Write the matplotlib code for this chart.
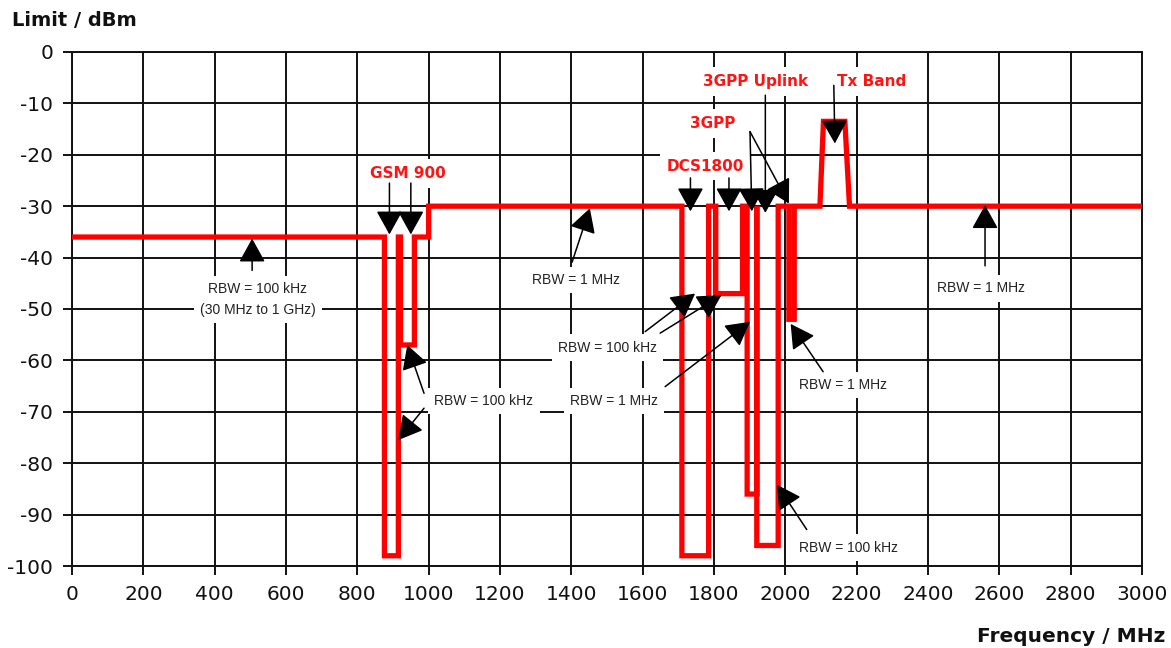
import matplotlib.pyplot as plt

# emission limit mask: corner points of the limit line
freq_mhz = [0, 876, 876, 915, 915, 921, 921, 960, 960, 1000, 1000,
            1710, 1710, 1785, 1785, 1805, 1805, 1880, 1880, 1893, 1893,
            1920, 1920, 1920, 1980, 1980, 2010, 2010, 2025, 2025,
            2097, 2107, 2167, 2180, 3000]
limit_dbm = [-36, -36, -98, -98, -36, -36, -57, -57, -36, -36, -30,
             -30, -98, -98, -30, -30, -47, -47, -30, -30, -86,
             -86, -30, -96, -96, -30, -30, -52, -52, -30,
             -30, -13.5, -13.5, -30, -30]

x_ticks = list(range(0, 3001, 200))
y_ticks = list(range(-100, 1, 10))

band_names = ['GSM 900', 'DCS1800', '3GPP', '3GPP Uplink', 'Tx Band']
rbw_texts = ['RBW = 100 kHz\n(30 MHz to 1 GHz)', 'RBW = 100 kHz', 'RBW = 1 MHz',
             'RBW = 100 kHz', 'RBW = 1 MHz', 'RBW = 1 MHz', 'RBW = 100 kHz',
             'RBW = 1 MHz']

plt.rcParams['font.family'] = 'DejaVu Sans'
plt.rcParams['axes.unicode_minus'] = False

fig = plt.figure(figsize=(11.71, 6.48), dpi=100)
ax = fig.add_axes([0.0615, 0.1265, 0.9137, 0.7933])

ax.plot(freq_mhz, limit_dbm, color='#ff0000', lw=3.8,
        solid_joinstyle='miter', solid_capstyle='butt', zorder=3)

ax.set_xlim(0, 3000)
ax.set_ylim(-100, 0)
ax.set_xticks(x_ticks)
ax.set_yticks(y_ticks)
ax.grid(True, color='#111111', lw=1.4)
ax.set_axisbelow(True)
for s in ax.spines.values():
    s.set_linewidth(1.4)
    s.set_color('#111111')
ax.tick_params(direction='out', length=6.5, width=1.4, pad=7,
               labelsize=14.5, color='#111111', labelcolor='#111111')

fig.text(12 / 1171, 1 - 21 / 648, 'Limit / dBm', fontsize=14,
         fontweight='bold', ha='left', va='center', color='#111111')
fig.text(1165 / 1171, 1 - 637 / 648, 'Frequency / MHz', fontsize=14.5,
         fontweight='bold', ha='right', va='center', color='#111111')

box = dict(boxstyle='square,pad=0.45', fc='white', ec='none')


def arrow(tail, tip):
    ax.annotate('', xy=tip, xytext=tail, zorder=5,
                arrowprops=dict(arrowstyle='-|>,head_length=0.74,head_width=0.41',
                                mutation_scale=20, lw=1.1, color='black',
                                shrinkA=0, shrinkB=0))


# red band names
band_pos = [(943, -23.6), (1777, -22.2), (1797, -13.9), (1916, -5.8), (2243, -5.8)]
for name, (x, y) in zip(band_names, band_pos):
    ax.text(x, y, name, color='#ff1414', fontsize=11, fontweight='bold',
            ha='center', va='center', bbox=box, zorder=4)

# RBW notes
rbw_pos = [(521, -48.2), (1155, -67.9), (1412, -44.4), (1501, -57.5),
           (1520, -67.9), (2161, -64.8), (2177, -96.4), (2549, -46)]
for t, (x, y) in zip(rbw_texts, rbw_pos):
    ax.text(x, y, t, color='#222222', fontsize=10, family='Liberation Sans',
            ha='center', va='center', linespacing=1.6, bbox=box, zorder=4)

arrows = [
    ((505, -42.5), (505, -36.3)),
    ((890, -25.5), (890, -35.5)),
    ((950, -25.5), (950, -35.5)),
    ((987, -66.4), (940, -57)),
    ((987, -69.3), (915, -75.5)),
    ((1402, -40.9), (1452, -30.4)),
    ((1607, -54.4), (1747, -47)),
    ((1649, -54.7), (1821, -47.3)),
    ((1663, -65.1), (1901, -52.5)),
    ((1734, -24.5), (1734, -31)),
    ((1842, -24.5), (1842, -31)),
    ((1901, -15.5), (1906, -31)),
    ((1901, -15.5), (2010, -29.5)),
    ((1944, -8.4), (1944, -31.3)),
    ((2136, -6.5), (2139, -17.8)),
    ((2106, -62.2), (2015, -52.9)),
    ((2060, -92.9), (1977, -84.2)),
    ((2560, -41.6), (2560, -29.8)),
]
for tail, tip in arrows:
    arrow(tail, tip)

fig.savefig('out.png', dpi=100)
